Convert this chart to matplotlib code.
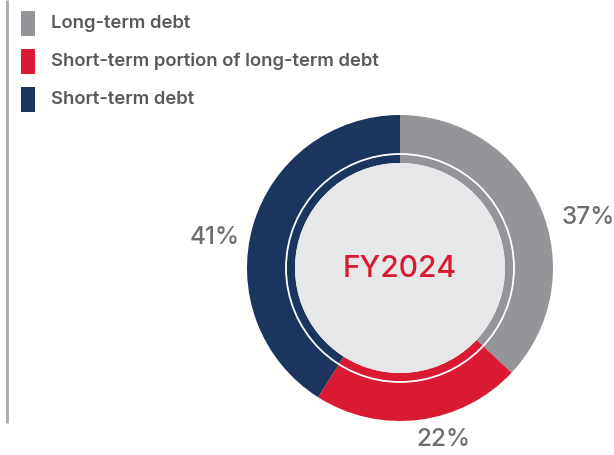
import matplotlib
matplotlib.use("Agg")
import matplotlib.pyplot as plt
from matplotlib.patches import Circle, Rectangle

# debt composition, FY2024
categories = ["Long-term debt", "Short-term portion of long-term debt", "Short-term debt"]
shares = [37, 22, 41]
colors = ["#939598", "#DA1A32", "#1C355E"]
year_label = "FY2024"

# where the percentage labels sit (pixels, y up)
label_pos = [(588, 218), (443, 440), (215, 237)]

W, H = 614, 455
fig = plt.figure(figsize=(W / 100, H / 100), dpi=100)
ax = fig.add_axes([0, 0, 1, 1])

cx, cy = 400, H - 268
r_out, r_in = 153, 105

ax.pie(shares, colors=colors, radius=r_out, center=(cx, cy), startangle=90,
       counterclock=False, wedgeprops=dict(width=r_out - r_in, linewidth=0),
       frame=True)
ax.set_xlim(0, W)
ax.set_ylim(0, H)
ax.set_aspect("equal")
ax.axis("off")

# thin white ring and the grey centre disc
ax.add_patch(Circle((cx, cy), 114, fill=False, edgecolor="white", linewidth=1.3, zorder=3))
ax.add_patch(Circle((cx, cy), r_in, facecolor="#E6E7E8", edgecolor="none", zorder=3))
ax.text(cx, cy - 1, year_label, ha="center", va="center", fontsize=21.5,
        color="#DA1A32", family="Inter", fontweight="medium", zorder=4)

for v, (x, y) in zip(shares, label_pos):
    ax.text(x, H - y, f"{v}%", ha="center", va="center", fontsize=17.5,
            color="#6D6E71", family="Inter", fontweight="medium")

# legend on the left with a grey rule
ax.plot([7, 7], [H - 0, H - 423], color="#A7A9AC", linewidth=2, solid_capstyle="butt")
for i, (name, c) in enumerate(zip(categories, colors)):
    yc = 23 + 38 * i
    ax.add_patch(Rectangle((21, H - yc - 12.5), 14, 25, facecolor=c, edgecolor="none"))
    ax.text(51, H - yc, name, ha="left", va="center", fontsize=13.3,
            color="#58595B", family="Inter", fontweight="semibold")

fig.savefig("out.png", dpi=100)
